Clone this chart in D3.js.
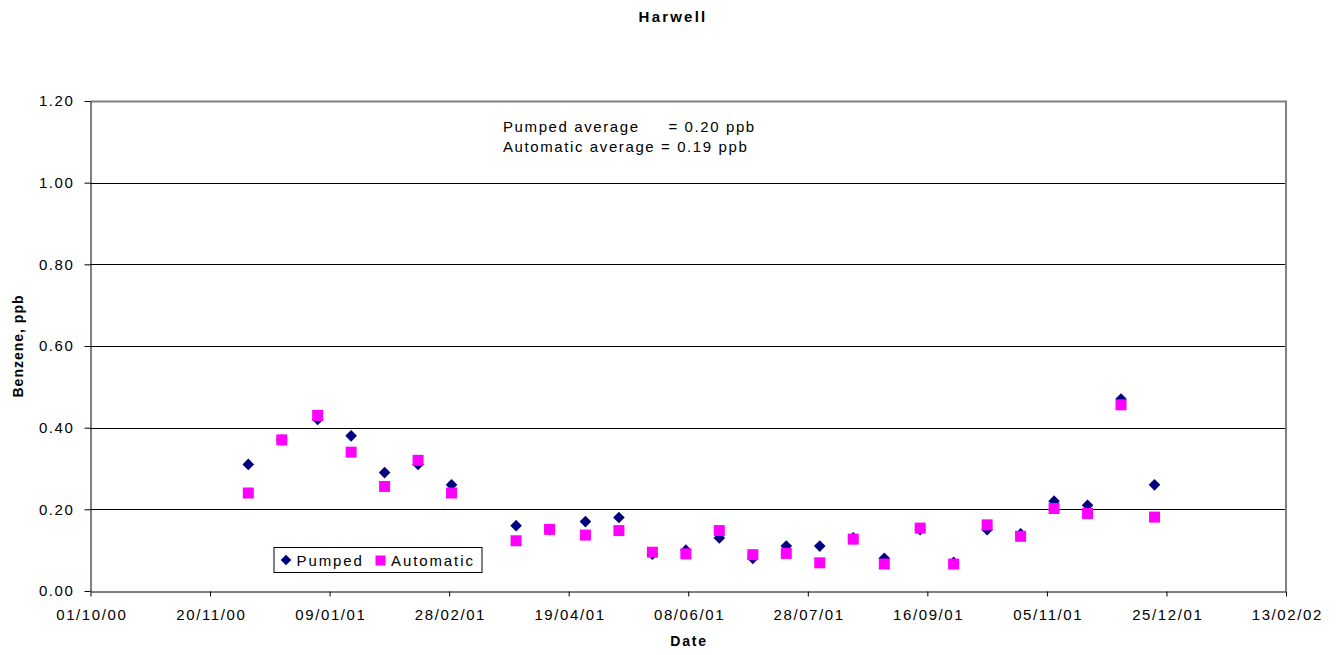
<!DOCTYPE html>
<html>
<head>
<meta charset="utf-8">
<script src="https://cdn.jsdelivr.net/npm/d3@7"></script>
<style>
  html, body { margin: 0; padding: 0; background: #fff; }
  svg text { font-family: "Liberation Sans", Arial, sans-serif; }
</style>
</head>
<body>
<svg id="chart" width="1338" height="655"></svg>
<script>
// ---- data ----
const dates = ["06/12/00","20/12/00","04/01/01","18/01/01","01/02/01","15/02/01","01/03/01",
  "28/03/01","11/04/01","26/04/01","10/05/01","24/05/01","07/06/01","21/06/01","05/07/01",
  "19/07/01","02/08/01","16/08/01","29/08/01","13/09/01","27/09/01","11/10/01","25/10/01",
  "08/11/01","22/11/01","06/12/01","20/12/01"];
const pumped = [0.31,0.37,0.42,0.38,0.29,0.31,0.26,0.16,0.15,0.17,0.18,0.09,0.10,0.13,0.08,
  0.11,0.11,0.13,0.08,0.15,0.07,0.15,0.14,0.22,0.21,0.47,0.26];
const automatic = [0.24,0.37,0.43,0.34,0.256,0.32,0.24,0.123,0.151,0.137,0.148,0.095,0.091,0.148,0.089,
  0.092,0.069,0.127,0.066,0.154,0.066,0.162,0.134,0.202,0.19,0.456,0.181];
const xTickLabels = ["01/10/00","20/11/00","09/01/01","28/02/01","19/04/01","08/06/01",
  "28/07/01","16/09/01","05/11/01","25/12/01","13/02/02"];
const yTicks = [0, 0.2, 0.4, 0.6, 0.8, 1.0, 1.2];
const title = "Harwell";
const xTitle = "Date";
const yTitle = "Benzene, ppb";
const seriesNames = ["Pumped", "Automatic"];
const notes = ["Pumped average     = 0.20 ppb", "Automatic average = 0.19 ppb"];

// ---- layout ----
const parse = d3.timeParse("%d/%m/%y");
const L = 90.5, R = 1286, T = 101, B = 591;
const svg = d3.select("#chart");
svg.append("rect").attr("width", 1338).attr("height", 655).attr("fill", "#fff");

const x = d3.scaleTime()
  .domain([parse(xTickLabels[0]), parse(xTickLabels[xTickLabels.length - 1])])
  .range([L, R]);
const y = d3.scaleLinear().domain([0, 1.2]).range([B, T]);

const LS = "1.6px";

// gridlines
svg.append("g").selectAll("line").data(yTicks.filter(v => v > 0 && v < 1.2)).join("line")
  .attr("x1", L).attr("x2", R)
  .attr("y1", d => Math.round(y(d)) + 0.5).attr("y2", d => Math.round(y(d)) + 0.5)
  .attr("stroke", "#000").attr("stroke-width", 1);

// plot border (top, right)
svg.append("path")
  .attr("d", `M${L},${T + 0.5}H${R}V${B}`)
  .attr("fill", "none").attr("stroke", "#808080").attr("stroke-width", 2);

// axes
const xAxis = d3.axisBottom(x)
  .tickValues(xTickLabels.map(parse))
  .tickFormat(d3.timeFormat("%d/%m/%y"))
  .tickSizeInner(5).tickSizeOuter(0).tickPadding(13);
const gx = svg.append("g").attr("transform", `translate(0,${B + 0.5})`).call(xAxis);
gx.select(".domain").attr("stroke", "#000");
gx.selectAll(".tick line").attr("stroke", "#000");
gx.selectAll("text").attr("font-size", 15).attr("fill", "#000")
  .style("letter-spacing", LS).attr("dx", "0.8px");

const yAxis = d3.axisLeft(y).tickValues(yTicks).tickFormat(d3.format(".2f"))
  .tickSizeInner(6).tickSizeOuter(0).tickPadding(10);
const gy = svg.append("g").attr("transform", `translate(${L},0)`).call(yAxis);
gy.select(".domain").attr("stroke", "#000");
gy.selectAll(".tick line").attr("stroke", "#000");
gy.selectAll("text").attr("font-size", 15).attr("fill", "#000").style("letter-spacing", LS);

// titles
svg.append("text").attr("x", 673).attr("y", 22).attr("text-anchor", "middle")
  .attr("font-size", 15).attr("font-weight", "bold").style("letter-spacing", "2.2px")
  .text(title);
svg.append("text").attr("x", 689).attr("y", 646).attr("text-anchor", "middle")
  .attr("font-size", 14).attr("font-weight", "bold").style("letter-spacing", "1.8px")
  .text(xTitle);
svg.append("text").attr("transform", "translate(23,346) rotate(-90)").attr("text-anchor", "middle")
  .attr("font-size", 14).attr("font-weight", "bold").style("letter-spacing", "1px")
  .text(yTitle);

// notes
svg.append("g").selectAll("text").data(notes).join("text")
  .attr("x", 503).attr("y", (d, i) => 132 + i * 20)
  .attr("font-size", 15).style("letter-spacing", LS)
  .attr("xml:space", "preserve").style("white-space", "pre")
  .text(d => d);

// markers
const diamond = s => `M0,${-s}L${s},0L0,${s}L${-s},0Z`;
const COL_P = "#000080", COL_A = "#FF00FF";
const pts = dates.map((d, i) => ({ date: parse(d), p: pumped[i], a: automatic[i] }));

svg.append("g").selectAll("path").data(pts).join("path")
  .attr("transform", d => `translate(${x(d.date)},${y(d.p)})`)
  .attr("d", diamond(5.8)).attr("fill", COL_P);

svg.append("g").selectAll("rect").data(pts).join("rect")
  .attr("x", d => x(d.date) - 5.5).attr("y", d => y(d.a) - 5.5)
  .attr("width", 11).attr("height", 11).attr("fill", COL_A);

// legend
const lg = svg.append("g");
lg.append("rect").attr("x", 274).attr("y", 547.5).attr("width", 208).attr("height", 25)
  .attr("fill", "#fff").attr("stroke", "#000").attr("stroke-width", 1);
lg.append("path").attr("transform", "translate(286,560)").attr("d", diamond(5.3)).attr("fill", COL_P);
lg.append("text").attr("x", 296.5).attr("y", 565.5).attr("font-size", 15).style("letter-spacing", "1.9px")
  .text(seriesNames[0]);
lg.append("rect").attr("x", 375.5).attr("y", 555.5).attr("width", 10).attr("height", 10).attr("fill", COL_A);
lg.append("text").attr("x", 391).attr("y", 565.5).attr("font-size", 15).style("letter-spacing", "1.9px")
  .text(seriesNames[1]);
</script>
</body>
</html>
